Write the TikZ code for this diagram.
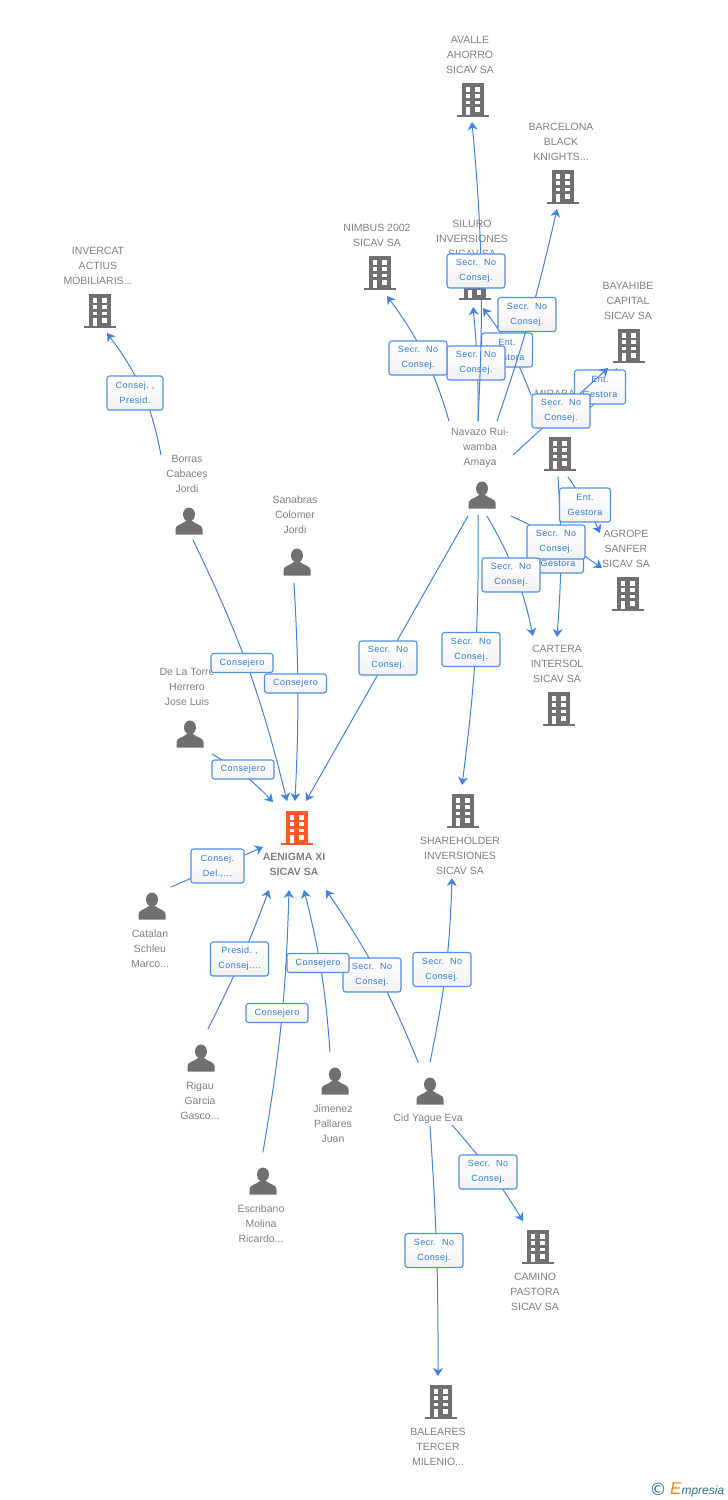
\documentclass[tikz,border=0pt]{standalone}
\usepackage{fontspec}
\usepackage{xcolor}
\usepackage{tikz}
\usetikzlibrary{arrows.meta}
\usetikzlibrary{calc}
\setmainfont{Liberation Sans}
\newfontfamily\tagfont[LetterSpace=5]{Liberation Sans}
\newfontfamily\markfont{DejaVu Sans}
\definecolor{linkblue}{rgb}{0.25,0.51,0.89}
\definecolor{tagblue}{rgb}{0.31,0.56,0.90}
\definecolor{tagtext}{rgb}{0.20,0.47,0.84}
\definecolor{iconfill}{rgb}{0.44,0.44,0.44}
\definecolor{mainfill}{rgb}{1.,0.35,0.17}
\definecolor{namegrey}{rgb}{0.50,0.50,0.50}
\definecolor{markteal}{rgb}{0.18,0.44,0.55}
\definecolor{markorange}{rgb}{0.96,0.52,0.10}
\newcommand{\buildingicon}[1]{%
  \begin{scope}[shift={(path picture bounding box.center)},y=-1pt]
    \fill [#1] (-11,-17) rectangle (11,14.5);
    \fill [#1] (-16,14.5) rectangle (16,17);
    \foreach \yy/\hh in {-12.7/4.4,-6/3.7,0.7/3.5} {
      \fill [white] (-7.3,\yy) rectangle (-2.7,\yy+\hh);
      \fill [white] (2.3,\yy) rectangle (7.3,\yy+\hh);
    }
    \fill [white] (-7.3,7.3) rectangle (-2.7,14.5);
    \fill [white] (2.3,7.3) rectangle (7.3,11.7);
  \end{scope}}
\newcommand{\personicon}{%
  \begin{scope}[shift={(path picture bounding box.center)},y=-1pt]
    \fill [iconfill] (0,-6.5) ellipse (6 and 7);
    \fill [iconfill] (-13.5,13.5) -- (-13.5,8) .. controls (-13.5,4) and (-7,3.5) .. (-3,0) -- (3,0) .. controls (7,3.5) and (13.5,4) .. (13.5,8) -- (13.5,13.5) -- cycle;
  \end{scope}}
\tikzset{
  icon/.style={circle,minimum size=48pt,inner sep=0pt},
  building/.style={icon,path picture={\buildingicon{iconfill}}},
  mainbuilding/.style={icon,path picture={\buildingicon{mainfill}}},
  person/.style={icon,path picture={\personicon}},
  entname/.style={text=namegrey,font=\fontsize{10.5}{15}\selectfont,align=center,inner sep=0pt},
  tag/.style={draw=tagblue,line width=1.1pt,rounded corners=2.5pt,top color=white,bottom color=black!5,text=tagtext,
    font=\tagfont\fontsize{9}{15}\selectfont,align=center,inner sep=0pt,minimum width=58pt,minimum height=34pt},
  tagent/.style={tag,minimum width=51pt},
  tagcons/.style={tag,minimum width=62pt,minimum height=19pt},
  link/.style={->,line width=1pt,color=linkblue}
}
\begin{document}
\begin{tikzpicture}[line cap=round,line join=round,>={Stealth[length=8pt,width=10pt,inset=2.5pt]},x=1pt,y=1pt]
  \useasboundingbox (0,-1500) rectangle (728,0);
  \node [building] (avalle) at (473,-100) {};
  \node [building] (barcelona) at (563,-187) {};
  \node [building] (nimbus) at (380,-273) {};
  \node [building] (siluro) at (475,-283) {};
  \node [building] (invercat) at (100,-311) {};
  \node [building] (bayahibe) at (629,-346) {};
  \node [building] (mirabal) at (560,-454) {};
  \node [building] (agrope) at (628,-594) {};
  \node [building] (cartera) at (559,-709) {};
  \node [building] (shareholder) at (463,-811) {};
  \node [mainbuilding] (aenigma) at (297,-828) {};
  \node [building] (camino) at (538,-1247) {};
  \node [building] (baleares) at (441,-1402) {};
  \node [person] (borras) at (189,-521) {};
  \node [person] (sanabras) at (297,-562) {};
  \node [person] (delatorre) at (190,-734) {};
  \node [person] (navazo) at (482,-495) {};
  \node [person] (catalan) at (152,-906) {};
  \node [person] (rigau) at (201,-1058) {};
  \node [person] (jimenez) at (335,-1081) {};
  \node [person] (cid) at (430,-1091) {};
  \node [person] (escribano) at (263,-1181) {};
  \node [entname] (avalleName) at (470,-55) {AVALLE\\AHORRO\\SICAV SA};
  \node [entname] (barcelonaName) at (561,-142) {BARCELONA\\BLACK\\KNIGHTS...};
  \node [entname] (nimbusName) at (377,-235.5) {NIMBUS 2002\\SICAV SA};
  \node [entname] (siluroName) at (472,-239) {SILURO\\INVERSIONES\\SICAV SA};
  \node [entname] (invercatName) at (98,-266) {INVERCAT\\ACTIUS\\MOBILIARIS...};
  \node [entname] (bayahibeName) at (628,-301) {BAYAHIBE\\CAPITAL\\SICAV SA};
  \node [entname] (mirabalName) at (558,-394) {MIRABAL};
  \node [entname] (agropeName) at (626,-549) {AGROPE\\SANFER\\SICAV SA};
  \node [entname] (carteraName) at (557,-664) {CARTERA\\INTERSOL\\SICAV SA};
  \node [entname] (shareholderName) at (460,-856) {SHAREHOLDER\\INVERSIONES\\SICAV SA};
  \node [entname,font=\fontsize{10.5}{15}\selectfont\bfseries] (aenigmaName) at (294,-864.5) {AENIGMA XI\\SICAV SA};
  \node [entname] (caminoName) at (535,-1292) {CAMINO\\PASTORA\\SICAV SA};
  \node [entname] (balearesName) at (438,-1447) {BALEARES\\TERCER\\MILENIO...};
  \node [entname] (borrasName) at (187,-474) {Borras\\Cabaces\\Jordi};
  \node [entname] (sanabrasName) at (295,-515) {Sanabras\\Colomer\\Jordi};
  \node [entname] (delatorreName) at (187,-687) {De La Torre\\Herrero\\Jose Luis};
  \node [entname] (navazoName) at (480,-448) {Navazo Rui-\\wamba\\Amaya};
  \node [entname] (catalanName) at (150,-949) {Catalan\\Schleu\\Marco...};
  \node [entname] (rigauName) at (200,-1101) {Rigau\\Garcia\\Gasco...};
  \node [entname] (jimenezName) at (333,-1124) {Jimenez\\Pallares\\Juan};
  \node [entname] (cidName) at (428,-1119) {Cid Yague Eva};
  \node [entname] (escribanoName) at (261,-1224) {Escribano\\Molina\\Ricardo...};
  \draw [link] ($(mirabal)+(-29,59)$) to [bend right=8] ($(siluro)+(8,-25)$);
  \node [tagent] (tagMirabalSiluro) at (507,-350) {Ent.\\Gestora};
  \draw [link] ($(navazo)+(-4,74)$) to [bend right=3] ($(siluro)+(-2,-24)$);
  \node [tag] (tagNavazoSiluro) at (476,-363) {Secr.~~No\\Consej.};
  \draw [link] ($(navazo)+(-4,74)$) to [bend right=4] ($(avalle)+(-1,-22)$);
  \node [tag] (tagNavazoAvalle) at (476,-271) {Secr.~~No\\Consej.};
  \draw [link] ($(navazo)+(15,74)$) to [bend right=3] ($(barcelona)+(-6,-22)$);
  \node [tag] (tagNavazoBarcelona) at (527,-314.5) {Secr.~~No\\Consej.};
  \draw [link] ($(navazo)+(-33,74)$) to [bend right=10] ($(nimbus)+(7,-23)$);
  \node [tag] (tagNavazoNimbus) at (418,-358) {Secr.~~No\\Consej.};
  \draw [link] ($(mirabal)+(15,34)$) to [bend right=15] ($(bayahibe)+(-12,-22)$);
  \node [tagent] (tagMirabalBayahibe) at (600,-387) {Ent.\\Gestora};
  \draw [link] ($(navazo)+(31,40)$) -- ($(bayahibe)+(-21,-22)$);
  \node [tag] (tagNavazoBayahibe) at (561,-411) {Secr.~~No\\Consej.};
  \draw [link] ($(mirabal)+(-2,-23)$) to [bend left=4] ($(cartera)+(-2,72)$);
  \node [tagent] (tagMirabalCartera) at (558,-556) {Ent.\\Gestora};
  \draw [link] ($(mirabal)+(8,-23)$) to [bend left=5] ($(agrope)+(-28,61)$);
  \node [tagent] (tagMirabalAgrope) at (585,-505) {Ent.\\Gestora};
  \draw [link] ($(navazo)+(29,-21)$) to [bend left=5] ($(agrope)+(-26,26)$);
  \node [tag] (tagNavazoAgrope) at (556,-542) {Secr.~~No\\Consej.};
  \draw [link] ($(navazo)+(5,-21)$) to [bend left=9] ($(cartera)+(-26,73)$);
  \node [tag] (tagNavazoCartera) at (511,-575) {Secr.~~No\\Consej.};
  \draw [link] ($(navazo)+(-4,-20)$) to [bend left=4] ($(shareholder)+(-1,26)$);
  \node [tag] (tagNavazoShareholder) at (471,-649.5) {Secr.~~No\\Consej.};
  \draw [link] ($(navazo)+(-14,-21)$) -- ($(aenigma)+(9,27)$);
  \node [tag] (tagNavazoAenigma) at (388,-658) {Secr.~~No\\Consej.};
  \draw [link] ($(borras)+(-28,66)$) to [bend right=13] ($(invercat)+(7,-22)$);
  \node [tag,minimum width=56pt] (tagBorrasInvercat) at (135,-393) {Consej.~,\\Presid.};
  \draw [link] ($(borras)+(4,-19)$) to [bend left=6] ($(aenigma)+(-10,27)$);
  \node [tagcons] (tagBorrasAenigma) at (242,-663) {Consejero};
  \draw [link] ($(sanabras)+(-3,-21)$) to [bend left=3] ($(aenigma)+(-2,27)$);
  \node [tagcons] (tagSanabrasAenigma) at (295.5,-683.5) {Consejero};
  \draw [link] ($(delatorre)+(22,-20)$) to [bend left=8] ($(aenigma)+(-24,26)$);
  \node [tagcons] (tagDelatorreAenigma) at (243,-769.5) {Consejero};
  \draw [link] ($(catalan)+(19,19)$) -- ($(aenigma)+(-34,-19)$);
  \node [tag,minimum width=53pt] (tagCatalanAenigma) at (217.5,-866) {Consej.\\Del.,...};
  \draw [link] ($(rigau)+(7,29)$) to [bend right=3] ($(aenigma)+(-28,-62)$);
  \node [tag] (tagRigauAenigma) at (239.5,-959) {Presid.~,\\Consej....};
  \draw [link] ($(escribano)+(0,29)$) to [bend right=4] ($(aenigma)+(-8,-62)$);
  \node [tagcons] (tagEscribanoAenigma) at (277,-1013) {Consejero};
  \draw [link] ($(cid)+(-12,29)$) to [bend right=6] ($(aenigma)+(29,-62)$);
  \node [tag] (tagCidAenigma) at (372,-975) {Secr.~~No\\Consej.};
  \draw [link] ($(jimenez)+(-5,29)$) to [bend right=5] ($(aenigma)+(7,-62)$);
  \node [tagcons] (tagJimenezAenigma) at (318,-963) {Consejero};
  \draw [link] ($(cid)+(0,29)$) to [bend right=5] ($(shareholder)+(-11,-67)$);
  \node [tag] (tagCidShareholder) at (442,-969.5) {Secr.~~No\\Consej.};
  \draw [link] ($(cid)+(22,-34)$) to [bend left=5] ($(camino)+(-15,26)$);
  \node [tag] (tagCidCamino) at (488,-1172) {Secr.~~No\\Consej.};
  \draw [link] ($(cid)+(0,-35)$) to [bend left=2] ($(baleares)+(-3,26)$);
  \node [tag] (tagCidBaleares) at (434,-1250.5) {Secr.~~No\\Consej.};
  \node [text=markteal,font=\markfont\fontsize{17}{17}\selectfont,inner sep=0pt] (markSign) at (658,-1489) {©};
  \node [text=markteal,font=\fontsize{12}{12}\selectfont\itshape,inner sep=0pt,anchor=west] (markName) at (670,-1490) {\textcolor{markorange}{\fontsize{17}{17}\selectfont E}mpresia};
\end{tikzpicture}
\end{document}
